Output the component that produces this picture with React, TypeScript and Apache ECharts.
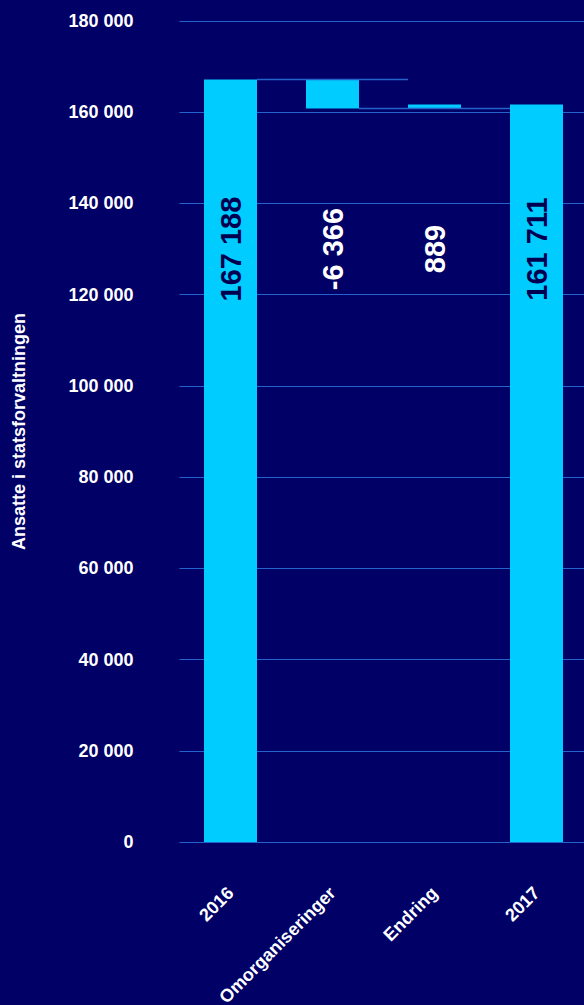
import React, { useEffect, useRef } from "react";
import * as echarts from "echarts";

const categories = ["2016", "Omorganiseringer", "Endring", "2017"];
const baseValues = [0, 160822, 160822, 0];
const barValues = [167188, 6366, 889, 161711];
const labelValues = [167188, -6366, 889, 161711];
const labelAnchor = 130000;
const connectorValues = [
  [0, 167188],
  [1, 160822],
];
const yTicks = { min: 0, max: 180000, interval: 20000 };

const BG = "#000066";
const CYAN = "#00CCFF";
const GRID = "#2563CC";
const FONT = "Liberation Sans, Arial, sans-serif";

const fmt = (v: number) => {
  const s = Math.abs(v).toString().replace(/\B(?=(\d{3})+(?!\d))/g, " ");
  return (v < 0 ? "-" : "") + s;
};

export default function App() {
  const ref = useRef<HTMLDivElement>(null);
  useEffect(() => {
    document.body.style.margin = "0";
    document.body.style.background = BG;
    document.body.style.overflow = "hidden";
    const chart = echarts.init(ref.current!, undefined, { renderer: "svg" });
    const barW = 53;
    chart.setOption({
      animation: false,
      backgroundColor: BG,
      grid: {
        left: 179.5,
        width: 408,
        top: 21,
        bottom: 163,
        containLabel: false,
        outerBoundsMode: "none",
      },
      xAxis: {
        type: "category",
        data: categories,
        axisLine: { show: false },
        axisTick: { show: false },
        axisLabel: {
          rotate: 45,
          margin: 48,
          color: "#ffffff",
          fontFamily: FONT,
          fontWeight: "bold",
          fontSize: 18,
          interval: 0,
        },
      },
      yAxis: {
        type: "value",
        min: yTicks.min,
        max: yTicks.max,
        interval: yTicks.interval,
        name: "Ansatte i statsforvaltningen",
        nameLocation: "middle",
        nameGap: 152,
        nameTextStyle: { color: "#ffffff", fontFamily: FONT, fontWeight: "bold", fontSize: 18 },
        axisLine: { show: false },
        axisTick: { show: false },
        splitLine: { lineStyle: { color: GRID, width: 1 } },
        axisLabel: {
          margin: 46,
          color: "#ffffff",
          fontFamily: FONT,
          fontWeight: "bold",
          fontSize: 18,
          formatter: (v: number) => fmt(v),
        },
      },
      series: [
        {
          type: "bar",
          stack: "w",
          barWidth: barW,
          data: baseValues,
          itemStyle: { color: "transparent" },
          silent: true,
        },
        {
          type: "bar",
          stack: "w",
          barWidth: barW,
          data: barValues,
          itemStyle: { color: CYAN },
        },
        {
          type: "custom",
          data: connectorValues,
          z: 5,
          renderItem: (params: any, api: any) => {
            const i = api.value(0);
            const v = api.value(1);
            const p1 = api.coord([i, v]);
            const p2 = api.coord([i + 2, v]);
            return {
              type: "line",
              shape: { x1: p1[0] + barW / 2, y1: p1[1], x2: p2[0] - barW / 2, y2: p2[1] },
              style: { stroke: GRID, lineWidth: 1.5 },
            };
          },
        },
        {
          type: "scatter",
          symbolSize: 0,
          z: 10,
          itemStyle: { opacity: 1 },
          data: labelValues.map((v, i) => ({
            value: [i, labelAnchor],
            label: {
              show: true,
              position: "inside",
              rotate: 90,
              formatter: fmt(v),
              color: i === 0 || i === 3 ? "#000050" : "#ffffff",
              textBorderWidth: 0,
              fontFamily: FONT,
              fontWeight: "bold",
              fontSize: 29,
            },
          })),
        },
      ],
    });
    return () => chart.dispose();
  }, []);
  return <div ref={ref} style={{ width: 584, height: 1005 }} />;
}
